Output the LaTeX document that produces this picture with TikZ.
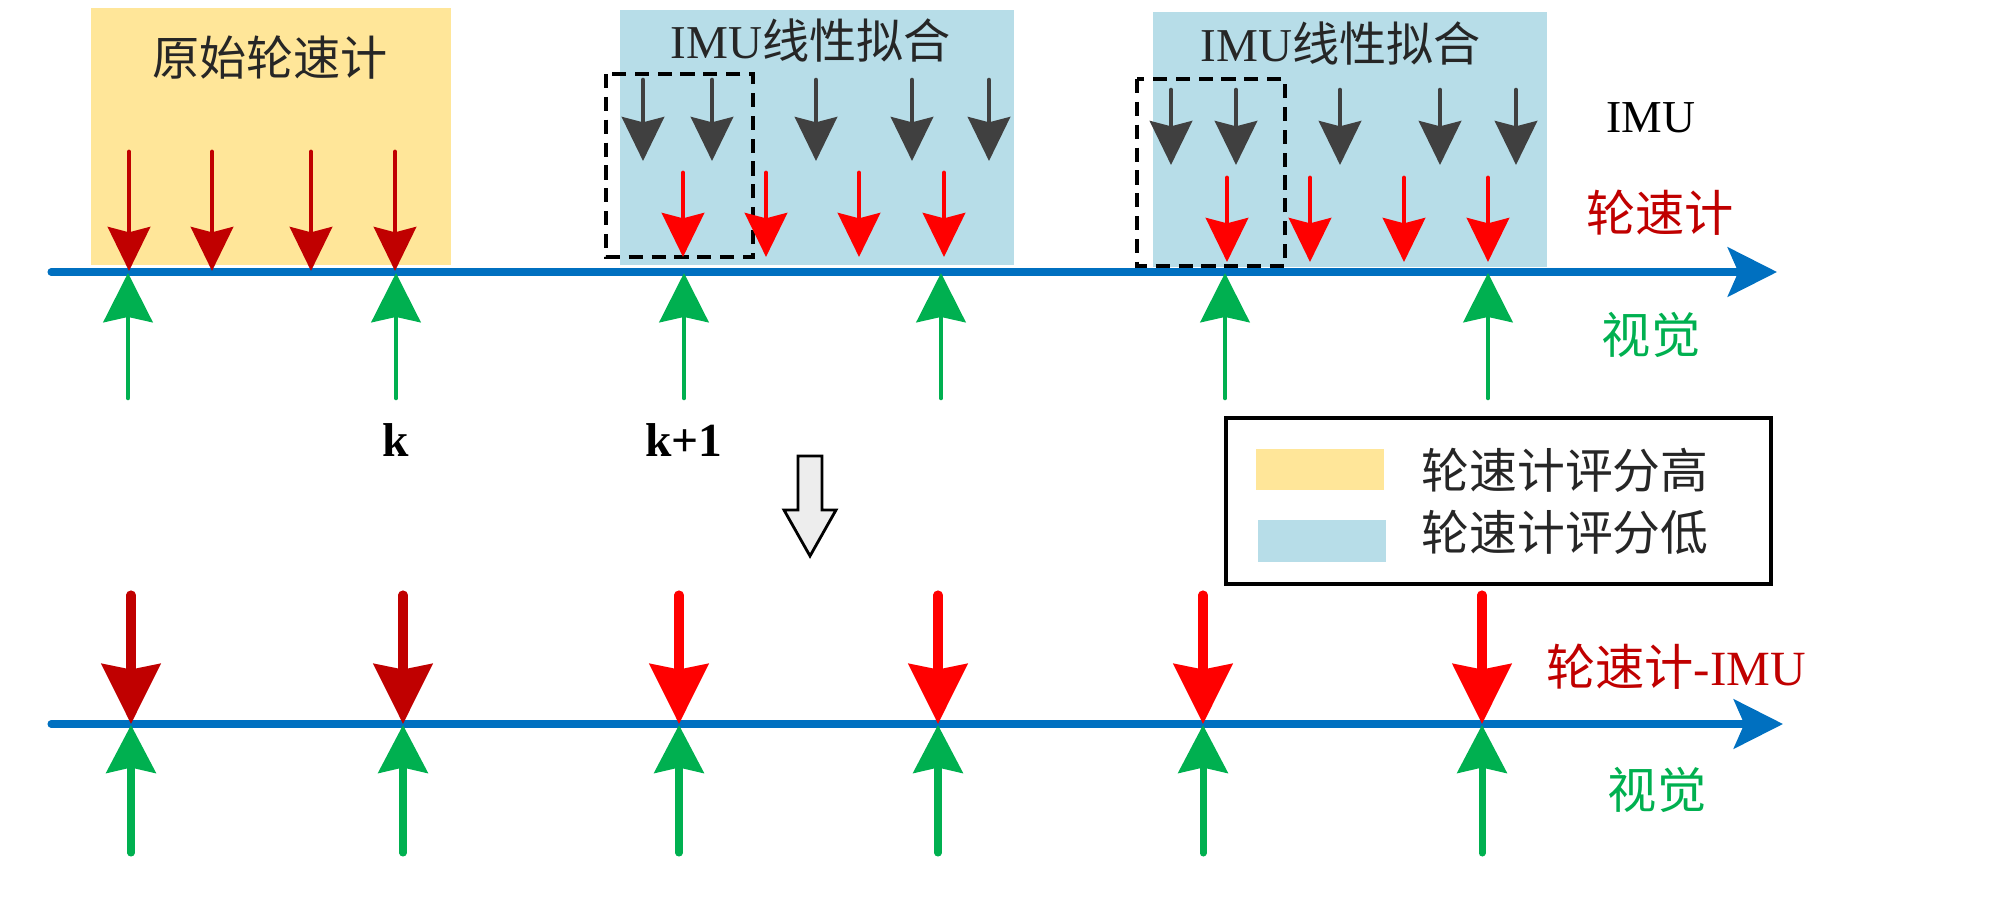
\documentclass[tikz,border=0pt]{standalone}
\usepackage{fontspec}
\setmainfont{Liberation Serif}
\newfontfamily\cjk{Noto Sans CJK SC}
\usetikzlibrary{arrows.meta}
\definecolor{odoyellow}{HTML}{FFE699}
\definecolor{imublue}{HTML}{B7DDE8}
\definecolor{axisblue}{HTML}{0070C0}
\definecolor{odored}{HTML}{C00000}
\definecolor{visgreen}{HTML}{00B050}
\definecolor{imugray}{HTML}{404040}
\begin{document}
\begin{tikzpicture}[x=0.01cm,y=-0.01cm,
    axisline/.style={axisblue,line width=2pt,line cap=round,-{Stealth[length=14pt,width=14pt,inset=3pt]}},
    odoarr/.style={odored,line width=1.4pt,line cap=round,-{Stealth[length=12.5pt,width=12pt,inset=1.5pt]}},
    fitarr/.style={red,line width=1.4pt,line cap=round,-{Stealth[length=12.5pt,width=12pt,inset=1.5pt]}},
    imuarr/.style={imugray,line width=1.3pt,line cap=round,-{Stealth[length=12.5pt,width=12pt,inset=1.5pt]}},
    visarr/.style={visgreen,line width=1.3pt,line cap=round,-{Stealth[length=14pt,width=14pt,inset=1.5pt]}},
    fusearr/.style={line width=2.6pt,line cap=round,-{Stealth[length=17pt,width=16.5pt,inset=1.5pt]}},
    visarrb/.style={visgreen,line width=2pt,line cap=round,-{Stealth[length=13.6pt,width=14pt,inset=1.5pt]}},
    lbl/.style={font=\fontsize{13.4pt}{16pt}\selectfont, text=black!85},
    fitbox/.style={black,line width=1pt,dash pattern=on 4pt off 2.5pt}]
    \useasboundingbox (0,0) rectangle (2000,906);
    % 评分区域
    \fill[odoyellow] (91,8) rectangle (451,265);
    \fill[imublue] (620,10) rectangle (1014,265);
    \fill[imublue] (1153,12) rectangle (1547,267);
    \draw[fitbox] (606,74) rectangle (753,257);
    \draw[fitbox] (1137,79) rectangle (1285,266);
    \node[lbl] (orig) at (270,58) {\cjk 原始轮速计};
    \node[lbl] (fitA) at (811,40) {IMU\cjk 线性拟合};
    \node[lbl] (fitB) at (1341,43) {IMU\cjk 线性拟合};
    % 时间轴
    \coordinate (topL) at (51,272);
    \coordinate (topR) at (1777,272);
    \coordinate (botL) at (51,724);
    \coordinate (botR) at (1783,724);
    \draw[axisline] (topL) -- (topR);
    \draw[axisline] (botL) -- (botR);
    % 上半部分
    \foreach \x in {129,212,311,395}
        \draw[odoarr] (\x,152) -- (\x,271);
    \foreach \x in {643,712,816,912,989}
        \draw[imuarr] (\x,80) -- (\x,161);
    \foreach \x in {1171,1236,1340,1440,1516}
        \draw[imuarr] (\x,90) -- (\x,165);
    \foreach \x in {683,766,859,944}
        \draw[fitarr] (\x,173) -- (\x,257);
    \foreach \x in {1227,1310,1404,1488}
        \draw[fitarr] (\x,178) -- (\x,262);
    \foreach \x in {128,396,684,941,1225,1488}
        \draw[visarr] (\x,398) -- (\x,273);
    \node[font=\fontsize{13pt}{15pt}\selectfont] (imu) at (1651,118) {IMU};
    \node[font=\fontsize{14pt}{16pt}\selectfont\cjk, text=odored] (odo) at (1660,213) {轮速计};
    \node[font=\fontsize{14pt}{16pt}\selectfont\cjk, text=visgreen] (vis) at (1651,335) {视觉};
    \node[font=\fontsize{13.5pt}{16pt}\selectfont\bfseries] (k) at (396,440) {k};
    \node[font=\fontsize{13.5pt}{16pt}\selectfont\bfseries] (kk) at (684,440) {k+1};
    % 转换箭头
    \draw[line width=0.8pt, fill=black!7] (798,456) -- (822,456) -- (822,510) -- (836,510)
        -- (810,556) -- (784,510) -- (798,510) -- cycle;
    % 图例
    \draw[line width=1pt] (1226,418) rectangle (1771,584);
    \fill[odoyellow] (1256,449) rectangle (1384,490);
    \fill[imublue] (1258,520) rectangle (1386,562);
    \node[lbl, font=\fontsize{13.6pt}{16pt}\selectfont\cjk] (hi) at (1565,470) {轮速计评分高};
    \node[lbl, font=\fontsize{13.6pt}{16pt}\selectfont\cjk] (lo) at (1565,532) {轮速计评分低};
    % 下半部分
    \foreach \x/\c in {131/odored,403/odored,679/red,938/red,1203/red,1482/red}
        \draw[fusearr,\c] (\x,595) -- (\x,724);
    \foreach \x in {131,403,679,938,1203,1482}
        \draw[visarrb] (\x,853) -- (\x,725);
    \node[font=\fontsize{14pt}{16pt}\selectfont, text=odored] (fuse) at (1676,667) {{\cjk 轮速计}-IMU};
    \node[font=\fontsize{14pt}{16pt}\selectfont\cjk, text=visgreen] (visb) at (1657,790) {视觉};
\end{tikzpicture}
\end{document}
